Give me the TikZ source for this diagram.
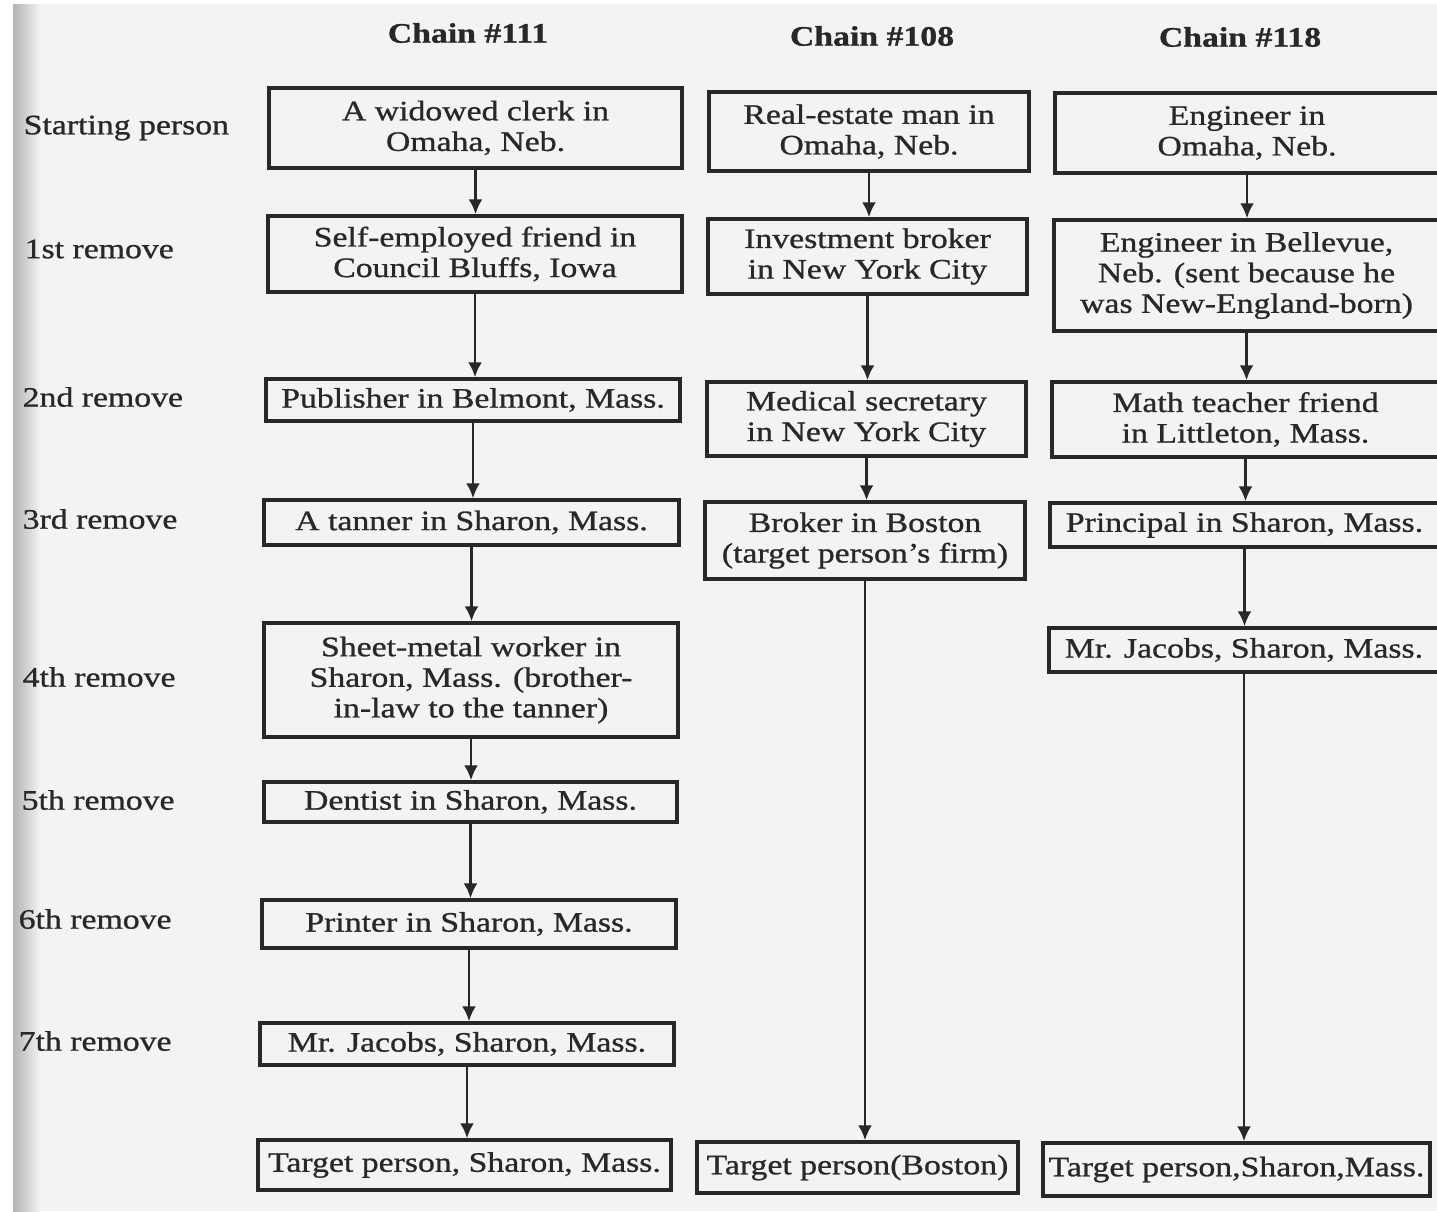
\documentclass[tikz,border=0pt]{standalone}
\usepackage{fontspec}
\setmainfont{Liberation Serif}[FakeStretch=1.2,FakeBold=0.9]
\usepackage{xcolor}
\definecolor{Ink}{RGB}{42,40,38}
\definecolor{Paper}{RGB}{243,243,241}
\usepackage{tikz}
\usetikzlibrary{arrows.meta}
\tikzstyle{Box}=[draw=Ink,line width=.95pt,inner sep=0pt,align=center,
text=Ink,font=\fontsize{8}{8.7}\selectfont]
\tikzstyle{Edge}=[draw=Ink,line width=.8pt,-{Latex[length=1.5mm,width=1.4mm]}]
\tikzstyle{Head}=[text=Ink,font=\fontsize{8}{9}\selectfont\bfseries]
\tikzstyle{Row}=[anchor=west,inner sep=0pt,text=Ink,font=\fontsize{8}{9}\selectfont]

\begin{document}
\begin{tikzpicture}[x=0.01cm,y=-0.01cm]
        \useasboundingbox(0,0)rectangle(1437,1211);
        \clip(0,0)rectangle(1437,1211);
        % scanned page
        \fill[white](0,0)rectangle(1437,1211);
        \fill[Paper](13,4)rectangle(1437,1211);
        \shade[left color=gray!60,right color=Paper](13,4)rectangle(40,1211);
        % headings
        \node[Head](h111)at(468,33){Chain \#111};
        \node[Head](h108)at(872,36){Chain \#108};
        \node[Head](h118)at(1240,37){Chain \#118};
        \node[Row](r0)at(23,128){Starting person};
        \node[Row](r1)at(24,249){1st remove};
        \node[Row](r2)at(22,397){2nd remove};
        \node[Row](r3)at(22,519){3rd remove};
        \node[Row](r4)at(22,677){4th remove};
        \node[Row](r5)at(21,800){5th remove};
        \node[Row](r6)at(18,919){6th remove};
        \node[Row](r7)at(18,1041){7th remove};
        % chain 111
        \node[Box,minimum width=4.13cm,minimum height=.80cm](a1)at(475.5,128){A widowed clerk in\\Omaha, Neb.};
        \node[Box,minimum width=4.14cm,minimum height=.76cm](a2)at(475,254){Self-employed friend in\\Council Bluffs, Iowa};
        \node[Box,minimum width=4.14cm,minimum height=.42cm](a3)at(473,400){Publisher in Belmont, Mass.};
        \node[Box,minimum width=4.15cm,minimum height=.45cm](a4)at(471.5,522.5){A tanner in Sharon, Mass.};
        \node[Box,minimum width=4.14cm,minimum height=1.14cm](a5)at(471,680){Sheet-metal worker in\\Sharon, Mass. (brother-\\in-law to the tanner)};
        \node[Box,minimum width=4.13cm,minimum height=.40cm](a6)at(470.5,802){Dentist in Sharon, Mass.};
        \node[Box,minimum width=4.14cm,minimum height=.48cm](a7)at(469,924){Printer in Sharon, Mass.};
        \node[Box,minimum width=4.14cm,minimum height=.42cm](a8)at(467,1044){Mr. Jacobs, Sharon, Mass.};
        \node[Box,minimum width=4.13cm,minimum height=.50cm](a9)at(464.5,1165){Target person, Sharon, Mass.};
        % chain 108
        \node[Box,minimum width=3.20cm,minimum height=.79cm](b1)at(869,131.5){Real-estate man in\\Omaha, Neb.};
        \node[Box,minimum width=3.19cm,minimum height=.75cm](b2)at(867.5,256.5){Investment broker\\in New York City};
        \node[Box,minimum width=3.19cm,minimum height=.74cm](b3)at(866.5,419){Medical secretary\\in New York City};
        \node[Box,minimum width=3.20cm,minimum height=.77cm](b4)at(865,540.5){Broker in Boston\\(target person’s firm)};
        \node[Box,minimum width=3.21cm,minimum height=.51cm](b5)at(857.5,1167.5){Target person(Boston)};
        % chain 118
        \node[Box,minimum width=3.84cm,minimum height=.80cm](c1)at(1247,133){Engineer in\\Omaha, Neb.};
        \node[Box,minimum width=3.85cm,minimum height=1.11cm](c2)at(1246.5,275.5){Engineer in Bellevue,\\Neb. (sent because he\\was New-England-born)};
        \node[Box,minimum width=3.87cm,minimum height=.75cm](c3)at(1245.5,419.5){Math teacher friend\\in Littleton, Mass.};
        \node[Box,minimum width=3.89cm,minimum height=.44cm](c4)at(1244.5,525){Principal in Sharon, Mass.};
        \node[Box,minimum width=3.90cm,minimum height=.44cm](c5)at(1244,650){Mr. Jacobs, Sharon, Mass.};
        \node[Box,minimum width=3.87cm,minimum height=.53cm](c6)at(1236.5,1169.5){Target person,Sharon,Mass.};
        % links
        \draw[Edge](a1.south)--(a1.south|-a2.north);
        \draw[Edge](a2.south)--(a2.south|-a3.north);
        \draw[Edge](a3.south)--(a3.south|-a4.north);
        \draw[Edge](a4.south)--(a4.south|-a5.north);
        \draw[Edge](a5.south)--(a5.south|-a6.north);
        \draw[Edge](a6.south)--(a6.south|-a7.north);
        \draw[Edge](a7.south)--(a7.south|-a8.north);
        \draw[Edge](a8.south)--(a8.south|-a9.north);
        \draw[Edge](b1.south)--(b1.south|-b2.north);
        \draw[Edge](b2.south)--(b2.south|-b3.north);
        \draw[Edge](b3.south)--(b3.south|-b4.north);
        \draw[Edge](b4.south)--(b4.south|-b5.north);
        \draw[Edge](c1.south)--(c1.south|-c2.north);
        \draw[Edge](c2.south)--(c2.south|-c3.north);
        \draw[Edge](c3.south)--(c3.south|-c4.north);
        \draw[Edge](c4.south)--(c4.south|-c5.north);
        \draw[Edge](c5.south)--(c5.south|-c6.north);
    \end{tikzpicture}
\end{document}
